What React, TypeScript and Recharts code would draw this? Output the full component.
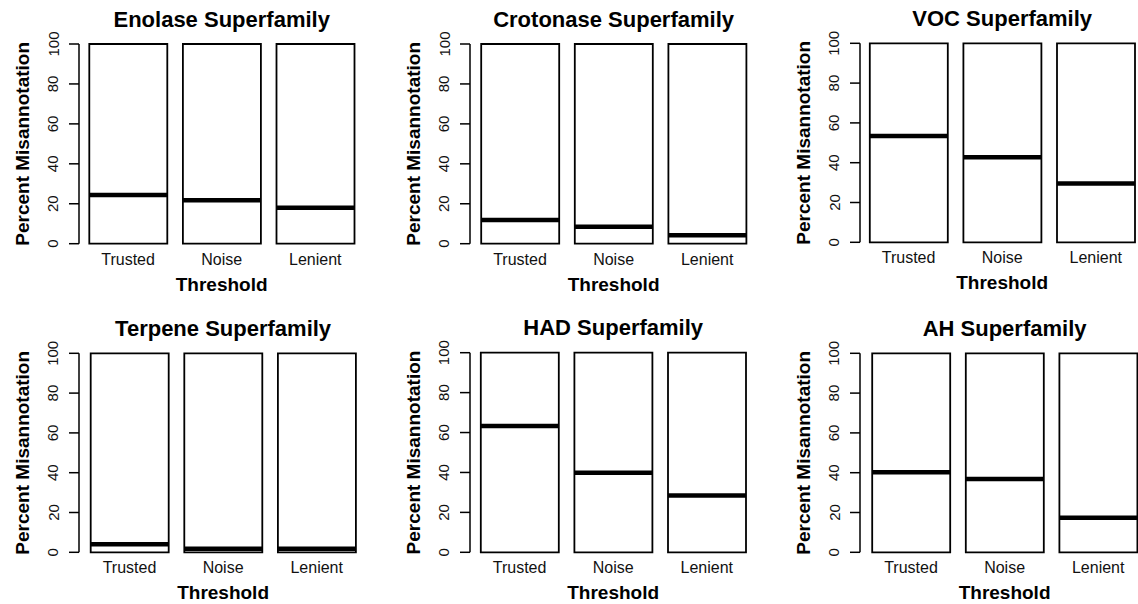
import { BarChart, Bar, XAxis, YAxis } from 'recharts'

const thresholds = ['Trusted', 'Noise', 'Lenient']
const titles = [
  'Enolase Superfamily', 'Crotonase Superfamily', 'VOC Superfamily',
  'Terpene Superfamily', 'HAD Superfamily', 'AH Superfamily',
]
// box extent (lower / upper hinge) for every threshold
const boxLow = [0, 0, 0]
const boxHigh = [100, 100, 100]
// medians
const enolase = [24.4, 21.7, 18.0]
const crotonase = [11.9, 8.5, 4.2]
const voc = [53.4, 42.7, 29.6]
const terpene = [4.0, 1.8, 1.8]
const had = [63.3, 39.9, 28.4]
const ah = [40.2, 36.8, 17.4]
const medians = [enolase, crotonase, voc, terpene, had, ah]
const yTicks = [0, 20, 40, 60, 80, 100]

// panel geometry (pixels)
const LAYOUT = [
  { ox: 0, oy: 0, axisX: 79, pad: 2.3, yTop: 44, yBot: 243.7 },
  { ox: 380, oy: 0, axisX: 470, pad: 3.2, yTop: 44, yBot: 243.7 },
  { ox: 760, oy: 0, axisX: 860, pad: 1.8, yTop: 43.3, yBot: 242.3 },
  { ox: 0, oy: 300, axisX: 79, pad: 3.7, yTop: 353.3, yBot: 552.3 },
  { ox: 380, oy: 300, axisX: 470, pad: 2.8, yTop: 352.7, yBot: 552.3 },
  { ox: 760, oy: 300, axisX: 860, pad: 4.2, yTop: 353.3, yBot: 552.3 },
]

const FONT = '"Liberation Sans", Arial, Helvetica, sans-serif'
const BAND = 93.6
const Y_W = 60
const X_H = 30

const XTick = ({ x, y, payload }: any) => (
  <text x={x} y={y + 21} textAnchor="middle" fontSize={16} fill="#111" fontFamily={FONT}>
    {payload.value}
  </text>
)

const YTick = ({ x, y, payload }: any) => {
  const tx = x - 16
  return (
    <text x={tx} y={y} transform={`rotate(-90, ${tx}, ${y})`} textAnchor="middle"
      dominantBaseline="central" fontSize={15} fill="#111" fontFamily={FONT}>
      {payload.value}
    </text>
  )
}

const MedianShape = ({ x, y, width }: any) => (
  <line x1={x} x2={x + width} y1={y} y2={y} stroke="#000" strokeWidth={4.5} />
)

function Panel({ title, values, lay }: { title: string; values: number[]; lay: typeof LAYOUT[0] }) {
  const data = thresholds.map((t, i) => ({ name: t, box: [boxLow[i], boxHigh[i]], median: values[i] }))
  const W = 390
  const H = lay.oy === 0 ? 300 : 304
  const plotRight = lay.axisX + lay.pad + 3 * BAND
  const margin = {
    top: lay.yTop - lay.oy,
    left: lay.axisX - lay.ox - Y_W,
    right: lay.ox + W - plotRight,
    bottom: lay.oy + H - lay.yBot - X_H,
  }
  const midX = lay.axisX + lay.pad + 1.5 * BAND - lay.ox
  const midY = (lay.yTop + lay.yBot) / 2 - lay.oy

  return (
    <div style={{ position: 'absolute', left: lay.ox, top: lay.oy, width: W, height: H }}>
      <BarChart width={W} height={H} data={data} margin={margin} barSize={78}>
        <XAxis xAxisId="box" dataKey="name" axisLine={false} tickLine={false} tickSize={0} tickMargin={0}
          padding={{ left: lay.pad, right: 0 }} height={X_H} interval={0} tick={XTick} />
        <XAxis xAxisId="med" dataKey="name" hide padding={{ left: lay.pad, right: 0 }} />
        <YAxis domain={[0, 100]} ticks={yTicks} width={Y_W} tickSize={10} tickMargin={0} interval={0}
          axisLine={{ stroke: '#000', strokeWidth: 1.5 }} tickLine={{ stroke: '#000', strokeWidth: 1.5 }}
          tick={YTick} />
        <Bar xAxisId="box" dataKey="box" fill="#fff" stroke="#000" strokeWidth={1.8} isAnimationActive={false} />
        <Bar xAxisId="med" dataKey="median" shape={MedianShape} isAnimationActive={false} />
      </BarChart>
      <svg width={W} height={H} style={{ position: 'absolute', left: 0, top: 0, pointerEvents: 'none' }}
        fontFamily={FONT} fontWeight="bold" fill="#000">
        <text x={midX} y={lay.yTop - lay.oy - 17.5} textAnchor="middle" fontSize={22}>{title}</text>
        <text x={midX} y={lay.yBot - lay.oy + 47} textAnchor="middle" fontSize={19}>Threshold</text>
        <text x={lay.axisX - lay.ox - 56.5} y={midY} textAnchor="middle" dominantBaseline="central" fontSize={19}
          transform={`rotate(-90, ${lay.axisX - lay.ox - 56.5}, ${midY})`}>Percent Misannotation</text>
      </svg>
    </div>
  )
}

export default function App() {
  return (
    <div style={{ position: 'absolute', left: 0, top: 0, width: 1138, height: 604, background: '#fff', overflow: 'hidden' }}>
      {titles.map((t, i) => (
        <Panel key={t} title={t} values={medians[i]} lay={LAYOUT[i]} />
      ))}
    </div>
  )
}
